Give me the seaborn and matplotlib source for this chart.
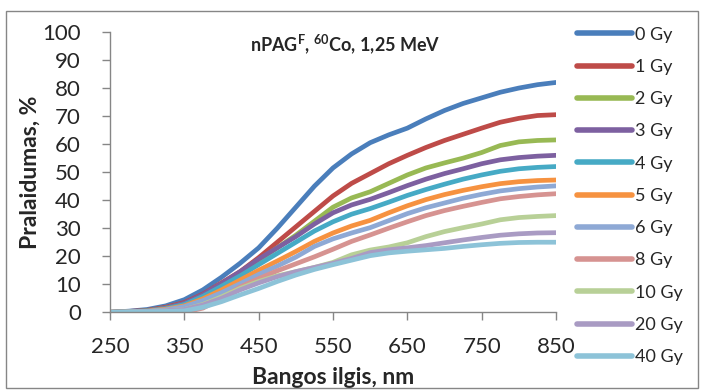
import pandas as pd
import matplotlib
matplotlib.use("Agg")
import matplotlib.pyplot as plt
import seaborn as sns
from matplotlib.patches import Rectangle

# wavelength grid (nm) and transmittance (%)
wavelength = [250, 275, 300, 325, 350, 375, 400, 425, 450, 475, 500, 525, 550,
              575, 600, 625, 650, 675, 700, 725, 750, 775, 800, 825, 850]
doses = ['0 Gy', '1 Gy', '2 Gy', '3 Gy', '4 Gy', '5 Gy', '6 Gy', '8 Gy', '10 Gy', '20 Gy', '40 Gy']
gy0 = [0, 0.4, 1.0, 2.3, 4.5, 8, 12.5, 17.5, 23, 30, 37.5, 45, 51.5,
       56.5, 60.5, 63.3, 65.7, 69, 72, 74.5, 76.5, 78.5, 80, 81.2, 82]
gy1 = [0, 0.3, 0.7, 1.8, 3.5, 6.5, 10.5, 14.5, 19.5, 25, 30.5, 36, 41.5,
       46, 49.5, 53, 56, 58.8, 61.3, 63.5, 65.7, 67.8, 69.2, 70.2, 70.5]
gy2 = [0, 0.2, 0.5, 1.5, 3.0, 6, 10, 14, 18.5, 23, 27.5, 32.5, 37.5,
       40.8, 43, 46, 49, 51.5, 53.3, 55, 57, 59.5, 60.8, 61.3, 61.5]
gy3 = [0, 0.2, 0.5, 1.5, 3.2, 6.3, 10.3, 14.5, 19, 23, 27, 31.5, 35.5,
       38.3, 40.3, 42.7, 45.2, 47.5, 49.5, 51.2, 53, 54.4, 55.2, 55.7, 56]
gy4 = [0, 0.2, 0.5, 1.3, 2.8, 5.7, 9.3, 13, 17, 21, 25, 29, 32.3,
       35, 37, 39.3, 41.7, 43.8, 45.7, 47.5, 49, 50.3, 51.2, 51.7, 52]
gy5 = [0, 0.1, 0.4, 1.1, 2.3, 4.8, 8, 11.5, 15, 18.3, 21.7, 25.3, 28.3,
       30.8, 32.8, 35.5, 38, 40.2, 42, 43.5, 44.8, 45.9, 46.6, 47, 47.2]
gy6 = [0, 0.1, 0.3, 0.9, 2.0, 4.2, 7, 10.2, 13.5, 16.5, 19.7, 23.5, 26.2,
       28.3, 30.2, 32.7, 35.2, 37.3, 39, 40.7, 42.1, 43.3, 44.1, 44.7, 45.1]
gy8 = [0, 0, 0, 0, 0, 1.5, 5, 9, 12, 14.8, 17.3, 19.8, 22.5,
       25.3, 27.6, 30, 32.3, 34.5, 36.3, 37.8, 39.2, 40.5, 41.3, 41.9, 42.3]
gy10 = [0, 0.1, 0.3, 0.6, 1.0, 2.8, 5.5, 8.5, 11, 13, 14.5, 16, 17.8,
        20.5, 22.2, 23.3, 24.8, 27, 28.8, 30.2, 31.5, 33, 33.8, 34.2, 34.5]
gy20 = [0, 0.1, 0.3, 0.6, 1.0, 2.6, 5, 8, 10.5, 12.7, 14.5, 16, 17.5,
        19.2, 21.3, 22.3, 23, 23.8, 24.8, 25.8, 26.7, 27.5, 28, 28.3, 28.4]
gy40 = [0, 0.1, 0.2, 0.3, 0.5, 1.8, 3.8, 6.2, 8.5, 11, 13.3, 15.3, 17,
        18.6, 20.2, 21.2, 21.8, 22.3, 22.8, 23.5, 24.1, 24.6, 24.9, 25, 25]
series = [gy0, gy1, gy2, gy3, gy4, gy5, gy6, gy8, gy10, gy20, gy40]

colors = ['#4A7EBB', '#BE4B48', '#98B954', '#7D60A0', '#46AAC5', '#F69240',
          '#8EA9D5', '#D69391', '#B8D097', '#A99BC3', '#8DC3D8']

# long table for seaborn
rows = []
for d, vals in zip(doses, series):
    for w, v in zip(wavelength, vals):
        rows.append({'wl': w, 'val': v, 'dose': d})
df = pd.DataFrame(rows)

sns.set_style("white")
plt.rcParams['font.family'] = ['Lato', 'DejaVu Sans']
plt.rcParams['mathtext.fontset'] = 'custom'
plt.rcParams['mathtext.rm'] = 'Lato'
plt.rcParams['mathtext.bf'] = 'Lato:bold'

fig = plt.figure(figsize=(7.02, 3.91), dpi=100)
ax = fig.add_axes([110 / 702, 1 - 312.3 / 391, 446 / 702, 280.3 / 391])

sns.lineplot(data=df, x='wl', y='val', hue='dose', palette=colors, linewidth=3.4,
             ax=ax, legend=False, sort=False)
for line in ax.get_lines():
    line.set_solid_capstyle('round')
    line.set_solid_joinstyle('round')

ax.set_xlim(250, 850)
ax.set_ylim(0, 100)
ax.set_xticks(range(250, 851, 100))
ax.set_yticks(range(0, 101, 10))
ax.tick_params(axis='both', labelsize=16, length=6, width=1, color='#868686',
               direction='out', left=True, bottom=True)
ax.tick_params(axis='y', pad=15)
ax.tick_params(axis='x', pad=12)
for s in ['top', 'right']:
    ax.spines[s].set_visible(False)
for s in ['left', 'bottom']:
    ax.spines[s].set_color('#868686')
    ax.spines[s].set_linewidth(1)
ax.grid(False)

ax.set_xlabel('Bangos ilgis, nm', fontsize=16.5, fontweight='bold', labelpad=7)
ax.set_ylabel('Pralaidumas, %', fontsize=16.5, fontweight='bold', labelpad=1)

fig.text(345 / 702, 1 - 44 / 391, r"nPAG$^{\mathbf{F}}$, $^{\mathbf{60}}$Co, 1,25 MeV",
         fontsize=13, fontweight='bold', ha='center', va='center')

# legend on the right, outside the plot area
handles = [plt.Line2D([], [], color=c, linewidth=4, solid_capstyle='round') for c in colors]
fig.legend(handles, doses, loc='upper left', bbox_to_anchor=(570 / 702, 1 - 19.5 / 391),
           frameon=False, fontsize=13, handlelength=3.05, handletextpad=0.17,
           labelspacing=0.9, borderaxespad=0)

# outer chart border
fig.patches.append(Rectangle((6 / 702, 3 / 391), 692 / 702, 377 / 391, transform=fig.transFigure,
                             fill=False, edgecolor='#868686', linewidth=1))

fig.savefig('out.png', dpi=100)
